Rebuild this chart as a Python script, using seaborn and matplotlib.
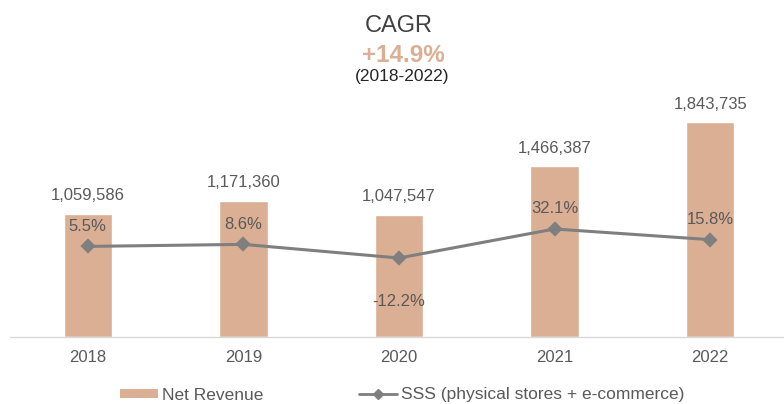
import numpy as np
import pandas as pd
import seaborn as sns
import matplotlib.pyplot as plt
from matplotlib.lines import Line2D
from matplotlib.patches import Patch

# data
years = ["2018", "2019", "2020", "2021", "2022"]
net_revenue = [1059586, 1171360, 1047547, 1466387, 1843735]
sss = [5.5, 8.6, -12.2, 32.1, 15.8]

bar_color = "#DBAF94"
line_color = "#7F7F7F"
text_color = "#595959"

sns.set_theme(style="white")
plt.rcParams["font.family"] = ["Liberation Sans", "DejaVu Sans"]

df = pd.DataFrame({"year": years, "revenue": net_revenue, "sss": sss})

fig = plt.figure(figsize=(7.84, 4.04), dpi=100)
ax = fig.add_axes([10 / 784, 1 - 337 / 404, 778 / 784, 233 / 404])

sns.barplot(data=df, x="year", y="revenue", color=bar_color, width=0.31,
            saturation=1, ax=ax)
ax.set_ylim(0, 2000000)

ax2 = ax.twinx()
sns.pointplot(data=df, x="year", y="sss", color=line_color, markers="D",
              markersize=6, linewidth=2.2, ax=ax2)
ax2.set_ylim(-132.8, 222.9)

# labels
for i, v in enumerate(net_revenue):
    ax.annotate(f"{v:,}", (i, v), xytext=(0, 13), textcoords="offset points",
                ha="center", va="center", fontsize=12, color=text_color)
for i, v in enumerate(sss):
    off = 14.5 if v >= 0 else -31.5
    ax2.annotate(f"{v}%", (i, v), xytext=(0, off), textcoords="offset points",
                 ha="center", va="center", fontsize=12, color=text_color)

# axes styling
for a in (ax, ax2):
    for s in ["top", "right", "left"]:
        a.spines[s].set_visible(False)
    a.set_xlabel("")
    a.set_ylabel("")
    a.set_yticks([])
ax2.spines["bottom"].set_visible(False)
ax.spines["bottom"].set_color("#D9D9D9")
ax.spines["bottom"].set_linewidth(1)
ax.set_xlim(-0.5, len(years) - 0.5)
ax.set_xticks(np.arange(len(years) + 1) - 0.5, minor=True)
ax.tick_params(axis="x", which="minor", length=6, color="#D9D9D9", width=1)
ax.tick_params(axis="x", which="major", length=0, pad=9, labelsize=12,
               labelcolor=text_color)

# title block
cx = 399 / 784
fig.text(cx, 1 - 32 / 404, "CAGR", ha="center", va="baseline", fontsize=17,
         color="#404040")
fig.text(cx + 4 / 784, 1 - 62 / 404, "+14.9%", ha="center", va="baseline",
         fontsize=17.5, fontweight="bold", color=bar_color)
fig.text(cx + 3 / 784, 1 - 81 / 404, "(2018-2022)", ha="center",
         va="baseline", fontsize=12.5, color="#262626")

handles = [Patch(facecolor=bar_color, edgecolor="none"),
           Line2D([0], [0], color=line_color, lw=2, marker="D", markersize=5)]
fig.legend(handles, ["Net Revenue", "SSS (physical stores + e-commerce)"],
           loc="center left", bbox_to_anchor=(120 / 784, 1 - 395 / 404),
           ncol=2, frameon=False, fontsize=12.5, handlelength=2.2,
           handleheight=0.46, handletextpad=0.23, columnspacing=5.5,
           borderpad=0, borderaxespad=0, labelcolor=text_color)

fig.savefig("out.png", dpi=100, facecolor="white")
